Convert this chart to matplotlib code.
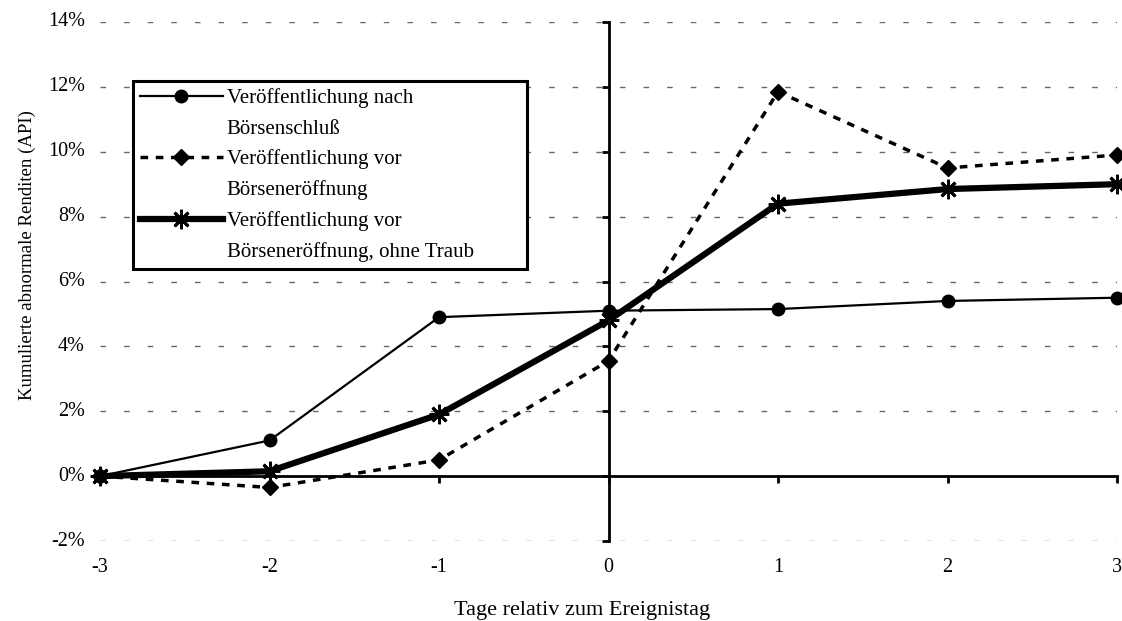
import matplotlib
matplotlib.use("Agg")
import matplotlib.pyplot as plt
import matplotlib.transforms as mtransforms
from matplotlib.lines import Line2D

days = [-3, -2, -1, 0, 1, 2, 3]
nach_schluss = [0.0, 1.1, 4.9, 5.1, 5.15, 5.4, 5.5]
vor_eroeffnung = [0.0, -0.35, 0.5, 3.55, 11.85, 9.5, 9.9]
vor_ohne_traub = [0.0, 0.15, 1.9, 4.8, 8.4, 8.85, 9.0]
labels = ["Veröffentlichung nach\nBörsenschluß",
          "Veröffentlichung vor\nBörseneröffnung",
          "Veröffentlichung vor\nBörseneröffnung, ohne Traub"]
y_ticks = [-2, 0, 2, 4, 6, 8, 10, 12, 14]
y_ticklabels = ["-2%", "0%", "2%", "4%", "6%", "8%", "10%", "12%", "14%"]
x_ticklabels = ["-3", "-2", "-1", "0", "1", "2", "3"]

plt.rcParams['font.family'] = ['Liberation Serif', 'DejaVu Serif']

fig = plt.figure(figsize=(11.22, 6.21), dpi=100)
ax = fig.add_axes([100/1122, 80/621, 1017/1122, 519/621])
ax.set_xlim(-3, 3)
ax.set_ylim(-2, 14)

# grid lines
for yv in y_ticks:
    if yv != 0:
        ax.axhline(yv, color='#666666', lw=1, ls=(0, (4, 13)), zorder=1)

# spines through zero
for s in ['top', 'right']:
    ax.spines[s].set_visible(False)
ax.spines['left'].set_position(('data', 0))
ax.spines['bottom'].set_position(('data', 0))
ax.spines['left'].set_linewidth(2)
ax.spines['bottom'].set_linewidth(2)
ax.set_xticks(days)
ax.set_yticks(y_ticks)
ax.tick_params(axis='both', direction='out', length=5, width=2, labelleft=False, labelbottom=False)

# tick labels at plot edges
trans_y = mtransforms.blended_transform_factory(ax.transAxes, ax.transData)
for yv, lab in zip(y_ticks, y_ticklabels):
    ax.text(-0.015, yv, lab, transform=trans_y, ha='right', va='center', fontsize=14.5)
trans_x = mtransforms.blended_transform_factory(ax.transData, ax.transAxes)
for xv, lab in zip(days, x_ticklabels):
    ax.text(xv, -0.052, lab, transform=trans_x, ha='center', va='center', fontsize=14.5)

l1, = ax.plot(days, nach_schluss, color='black', lw=1.6, marker='o', ms=9, zorder=3, clip_on=False)
l2, = ax.plot(days, vor_eroeffnung, color='black', lw=2.5, ls=(0, (2.2, 2.2)), marker='D', ms=8.5, zorder=3, clip_on=False)
l3, = ax.plot(days, vor_ohne_traub, color='black', lw=4.5, marker=(8, 2, 0), ms=14, mew=2, zorder=4, clip_on=False)

# legend, handle aligned with first text line
handles = []
leg_labels = []
blank = Line2D([], [], color='none')
for h, lab in zip([l1, l2, l3], labels):
    parts = lab.split('\n')
    handles.append(h)
    leg_labels.append(parts[0])
    for p in parts[1:]:
        handles.append(blank)
        leg_labels.append(p)
leg = ax.legend(handles, leg_labels, loc='upper left',
                bbox_to_anchor=(0.0324, 0.5, 0.3875, 0.3863), mode='expand',
                fontsize=15, frameon=True, fancybox=False, edgecolor='black',
                framealpha=1, handlelength=3.95, handletextpad=0.2,
                labelspacing=0.52, borderpad=0.35, borderaxespad=0)
leg.get_frame().set_linewidth(2.2)

fig.text(0.024, 0.59, "Kumulierte abnormale Renditen (API)", rotation=90, ha='center', va='center', fontsize=13.5)
fig.text(582/1122, 1 - 610/621, "Tage relativ zum Ereignistag", ha='center', va='center', fontsize=16)

fig.savefig("out.png", dpi=100)
